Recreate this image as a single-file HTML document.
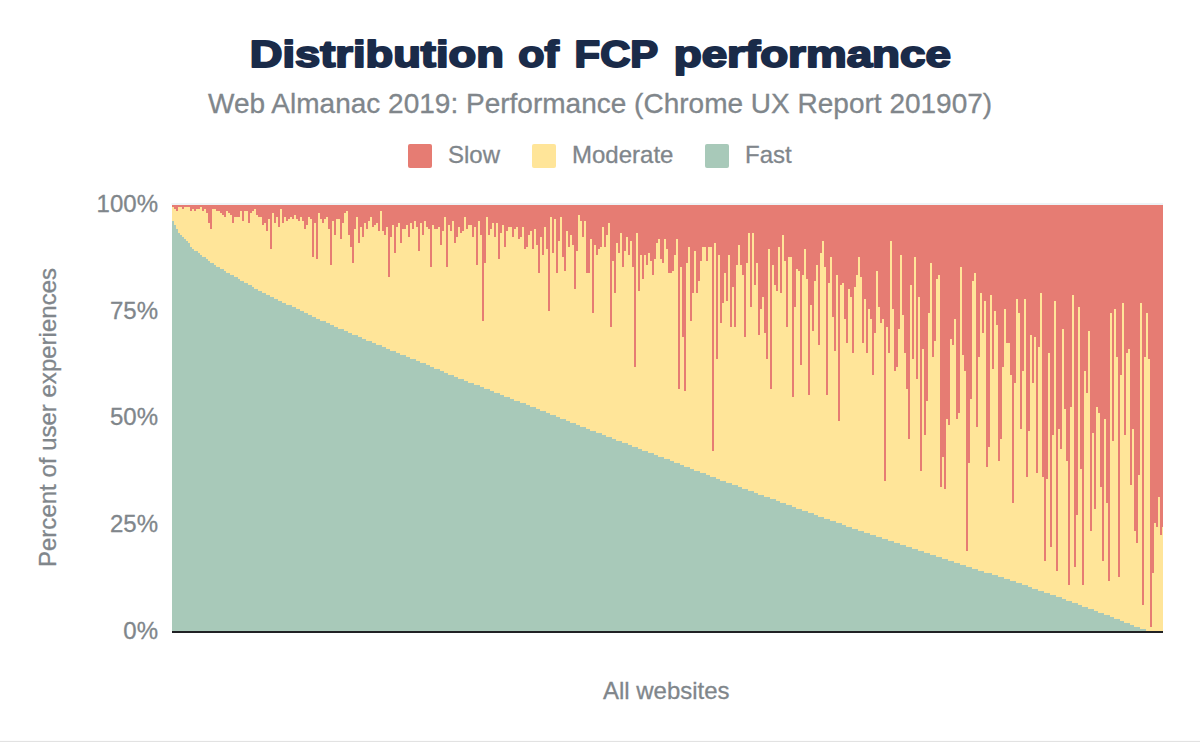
<!DOCTYPE html>
<html><head><meta charset="utf-8"><title>Distribution of FCP performance</title>
<style>
html,body{margin:0;padding:0;background:#fff;}
body{width:1200px;height:742px;overflow:hidden;font-family:"Liberation Sans",sans-serif;}
svg{display:block;font-family:"Liberation Sans",sans-serif;}
.g{fill:#80868b;font-size:24px;stroke:#80868b;stroke-width:0.3px;}
</style></head><body>
<svg width="1200" height="742" viewBox="0 0 1200 742">
<rect width="1200" height="742" fill="#fff"/>
<rect x="0" y="740.9" width="1200" height="1.1" fill="#e2e2e2"/>
<g id="title" font-size="37.5" font-weight="bold" fill="#1a2b49" stroke="#1a2b49" stroke-width="2" stroke-linejoin="round">
<text x="249.8" y="67.2" textLength="254.0" lengthAdjust="spacingAndGlyphs">Distribution</text>
<text x="518.2" y="67.2" textLength="40.5" lengthAdjust="spacingAndGlyphs">of</text>
<text x="574.6" y="67.2" textLength="83.6" lengthAdjust="spacingAndGlyphs">FCP</text>
<text x="673.7" y="67.2" textLength="277.3" lengthAdjust="spacingAndGlyphs">performance</text>
</g>
<text id="sub" x="208" y="113" font-size="28" fill="#80868b" stroke="#80868b" stroke-width="0.3" textLength="784.2" lengthAdjust="spacingAndGlyphs">Web Almanac 2019: Performance (Chrome UX Report 201907)</text>
<rect x="408" y="144" width="24" height="24" rx="2" fill="#e67c73"/>
<text class="g" id="l1" x="448" y="162.5">Slow</text>
<rect x="532" y="144" width="24" height="24" rx="2" fill="#ffe599"/>
<text class="g" id="l2" x="572" y="162.5">Moderate</text>
<rect x="705" y="144" width="24" height="24" rx="2" fill="#a8c9b9"/>
<text class="g" id="l3" x="745" y="162.5">Fast</text>
<g class="g" text-anchor="end">
<text x="158" y="212.2">100%</text>
<text x="158" y="318.8">75%</text>
<text x="158" y="425.3">50%</text>
<text x="158" y="531.8">25%</text>
<text x="158" y="638.6">0%</text>
</g>
<text class="g" id="yl" transform="translate(55.5,567) rotate(-90)" textLength="299" lengthAdjust="spacingAndGlyphs">Percent of user experiences</text>
<text class="g" id="xl" x="603" y="699" textLength="126.5" lengthAdjust="spacingAndGlyphs">All websites</text>
<g shape-rendering="crispEdges">
<rect x="171" y="203.4" width="1" height="1.6" fill="#f6f9fa"/>
<rect x="172" y="203.4" width="991" height="1.6" fill="#eef3f6"/>
<svg x="0" y="0" width="1163" height="742" viewBox="0 0 1163 742">
<rect x="172" y="205" width="992" height="426" fill="#ffe599"/>
<path fill="#e67c73" d="M172 205V207h2V209h2V211h2V207h2V207h2V209h2V207h2V207h2V207h2V211h2V209h2V211h2V209h2V209h2V207h2V211h2V209h2V213h2V223h2V229h2V209h2V209h2V211h2V211h2V213h2V215h2V217h2V211h2V213h2V215h2V223h2V217h2V217h2V217h2V211h2V221h2V211h2V211h2V223h2V213h2V211h2V209h2V215h2V217h2V217h2V225h2V223h2V231h2V219h2V249h2V213h2V223h2V217h2V227h2V209h2V223h2V217h2V221h2V219h2V217h2V219h2V215h2V219h2V221h2V217h2V221h2V229h2V225h2V217h2V219h2V257h2V223h2V259h2V213h2V219h2V223h2V219h2V217h2V229h2V265h2V221h2V235h2V219h2V219h2V239h2V223h2V213h2V211h2V235h2V247h2V263h2V229h2V217h2V243h2V227h2V237h2V223h2V229h2V221h2V217h2V227h2V225h2V223h2V231h2V211h2V231h2V235h2V227h2V277h2V237h2V225h2V253h2V227h2V223h2V243h2V229h2V229h2V225h2V237h2V223h2V229h2V221h2V227h2V251h2V223h2V235h2V221h2V227h2V229h2V267h2V225h2V229h2V229h2V227h2V245h2V231h2V217h2V267h2V225h2V231h2V221h2V243h2V237h2V227h2V233h2V231h2V217h2V229h2V225h2V225h2V237h2V227h2V265h2V221h2V235h2V321h2V263h2V217h2V235h2V229h2V223h2V237h2V223h2V259h2V233h2V225h2V247h2V231h2V227h2V227h2V237h2V229h2V227h2V239h2V237h2V227h2V249h2V247h2V235h2V231h2V249h2V229h2V245h2V273h2V237h2V255h2V227h2V249h2V311h2V217h2V253h2V219h2V273h2V241h2V217h2V257h2V271h2V231h2V247h2V235h2V245h2V289h2V251h2V215h2V221h2V237h2V221h2V273h2V273h2V239h2V313h2V245h2V255h2V249h2V247h2V227h2V247h2V235h2V223h2V327h2V261h2V293h2V243h2V253h2V233h2V267h2V251h2V237h2V255h2V241h2V267h2V367h2V233h2V291h2V255h2V279h2V255h2V265h2V253h2V261h2V275h2V259h2V243h2V239h2V259h2V263h2V239h2V249h2V273h2V273h2V271h2V255h2V239h2V389h2V267h2V337h2V391h2V263h2V247h2V321h2V293h2V251h2V293h2V281h2V261h2V247h2V247h2V261h2V247h2V247h2V451h2V243h2V359h2V255h2V323h2V303h2V273h2V301h2V255h2V327h2V287h2V327h2V265h2V245h2V265h2V275h2V337h2V263h2V233h2V307h2V233h2V285h2V263h2V335h2V309h2V297h2V333h2V359h2V249h2V389h2V265h2V285h2V291h2V247h2V293h2V235h2V261h2V327h2V257h2V257h2V397h2V307h2V269h2V271h2V365h2V275h2V249h2V279h2V395h2V305h2V331h2V281h2V265h2V345h2V253h2V241h2V267h2V395h2V283h2V257h2V317h2V351h2V275h2V421h2V285h2V283h2V319h2V343h2V289h2V297h2V353h2V287h2V275h2V257h2V277h2V343h2V299h2V353h2V309h2V319h2V375h2V333h2V271h2V307h2V323h2V319h2V481h2V327h2V353h2V241h2V309h2V371h2V367h2V329h2V255h2V315h2V353h2V389h2V439h2V285h2V359h2V257h2V379h2V297h2V471h2V349h2V435h2V401h2V313h2V263h2V357h2V341h2V279h2V275h2V487h2V457h2V489h2V419h2V425h2V339h2V345h2V319h2V419h2V413h2V267h2V355h2V371h2V551h2V463h2V399h2V281h2V273h2V427h2V357h2V293h2V333h2V301h2V467h2V447h2V295h2V369h2V311h2V325h2V461h2V439h2V367h2V309h2V343h2V343h2V375h2V503h2V383h2V299h2V313h2V429h2V371h2V299h2V477h2V431h2V335h2V383h2V337h2V473h2V347h2V293h2V477h2V561h2V479h2V353h2V547h2V435h2V301h2V571h2V429h2V449h2V329h2V409h2V461h2V585h2V407h2V295h2V567h2V515h2V307h2V469h2V585h2V371h2V393h2V331h2V531h2V433h2V509h2V407h2V413h2V487h2V561h2V419h2V503h2V581h2V313h2V441h2V309h2V357h2V577h2V375h2V303h2V435h2V353h2V349h2V485h2V429h2V531h2V543h2V475h2V303h2V605h2V357h2V313h2V359h2V627h2V573h2V523h2V527h2V497h2V535h2V527h2V205Z"/>
<path fill="#a8c9b9" d="M172 631V221h2V225h2V229h2V233h2V235h2V237h2V239h2V241h2V243h2V247h2V249h2V251h2V251h2V253h2V255h2V257h2V257h2V259h2V261h2V263h2V263h2V265h2V267h2V267h2V269h2V269h2V271h2V273h2V273h2V275h2V275h2V277h2V277h2V279h2V281h2V281h2V283h2V283h2V285h2V285h2V287h2V289h2V289h2V291h2V291h2V293h2V293h2V295h2V295h2V297h2V297h2V299h2V299h2V301h2V301h2V303h2V303h2V305h2V305h2V305h2V307h2V307h2V309h2V309h2V311h2V311h2V313h2V313h2V315h2V315h2V317h2V317h2V319h2V319h2V321h2V321h2V321h2V323h2V323h2V325h2V325h2V327h2V327h2V329h2V329h2V329h2V331h2V331h2V333h2V333h2V335h2V335h2V335h2V337h2V337h2V339h2V339h2V341h2V341h2V341h2V343h2V343h2V345h2V345h2V345h2V347h2V347h2V349h2V349h2V351h2V351h2V351h2V353h2V353h2V355h2V355h2V355h2V357h2V357h2V359h2V359h2V359h2V361h2V361h2V363h2V363h2V363h2V365h2V365h2V367h2V367h2V369h2V369h2V369h2V371h2V371h2V373h2V373h2V375h2V375h2V375h2V377h2V377h2V379h2V379h2V379h2V381h2V381h2V383h2V383h2V383h2V385h2V385h2V385h2V387h2V387h2V389h2V389h2V389h2V391h2V391h2V393h2V393h2V393h2V395h2V395h2V397h2V397h2V397h2V399h2V399h2V401h2V401h2V401h2V403h2V403h2V403h2V405h2V405h2V407h2V407h2V407h2V409h2V409h2V411h2V411h2V411h2V413h2V413h2V415h2V415h2V415h2V417h2V417h2V419h2V419h2V419h2V421h2V421h2V423h2V423h2V423h2V425h2V425h2V427h2V427h2V427h2V429h2V429h2V431h2V431h2V431h2V433h2V433h2V433h2V435h2V435h2V437h2V437h2V437h2V439h2V439h2V441h2V441h2V441h2V443h2V443h2V443h2V445h2V445h2V447h2V447h2V447h2V449h2V449h2V451h2V451h2V451h2V453h2V453h2V453h2V455h2V455h2V457h2V457h2V457h2V459h2V459h2V459h2V461h2V461h2V463h2V463h2V463h2V465h2V465h2V467h2V467h2V467h2V469h2V469h2V471h2V471h2V471h2V473h2V473h2V473h2V475h2V475h2V477h2V477h2V477h2V479h2V479h2V481h2V481h2V481h2V483h2V483h2V483h2V485h2V485h2V485h2V487h2V487h2V489h2V489h2V489h2V491h2V491h2V491h2V493h2V493h2V495h2V495h2V495h2V497h2V497h2V497h2V499h2V499h2V499h2V501h2V501h2V503h2V503h2V503h2V505h2V505h2V505h2V507h2V507h2V509h2V509h2V509h2V511h2V511h2V511h2V513h2V513h2V513h2V515h2V515h2V517h2V517h2V517h2V519h2V519h2V519h2V521h2V521h2V521h2V523h2V523h2V523h2V525h2V525h2V527h2V527h2V527h2V529h2V529h2V529h2V531h2V531h2V531h2V533h2V533h2V533h2V535h2V535h2V535h2V537h2V537h2V537h2V539h2V539h2V539h2V541h2V541h2V541h2V543h2V543h2V543h2V545h2V545h2V545h2V547h2V547h2V547h2V549h2V549h2V549h2V551h2V551h2V551h2V553h2V553h2V553h2V555h2V555h2V555h2V557h2V557h2V557h2V559h2V559h2V559h2V561h2V561h2V561h2V563h2V563h2V563h2V565h2V565h2V565h2V567h2V567h2V567h2V569h2V569h2V569h2V571h2V571h2V571h2V573h2V573h2V573h2V573h2V575h2V575h2V575h2V577h2V577h2V577h2V579h2V579h2V579h2V581h2V581h2V581h2V583h2V583h2V583h2V585h2V585h2V585h2V587h2V587h2V589h2V589h2V589h2V591h2V591h2V591h2V593h2V593h2V593h2V595h2V595h2V595h2V597h2V597h2V597h2V599h2V599h2V601h2V601h2V601h2V603h2V603h2V603h2V605h2V605h2V607h2V607h2V607h2V609h2V609h2V609h2V611h2V611h2V613h2V613h2V613h2V615h2V615h2V615h2V617h2V617h2V619h2V619h2V619h2V621h2V621h2V623h2V623h2V623h2V625h2V625h2V627h2V627h2V627h2V629h2V629h2V629h2V631h2V631h2V631h2V631h2V631h2V631h2V631h2V631h2V631h2V631Z"/>
</svg>
<rect x="172" y="630.6" width="991" height="2.2" fill="#202124"/>
</g>
</svg>
</body></html>
